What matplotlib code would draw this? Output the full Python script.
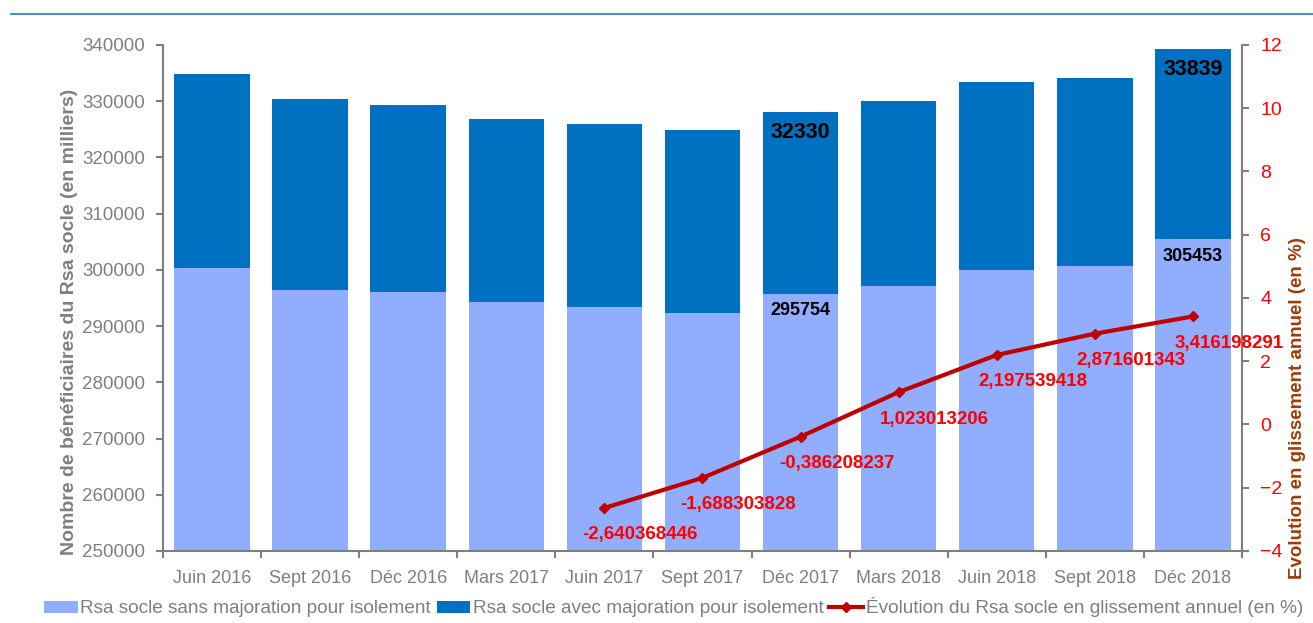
import matplotlib
matplotlib.use("Agg")
import matplotlib.pyplot as plt
from matplotlib.lines import Line2D
import numpy as np

plt.rcParams['font.family'] = ['Liberation Sans', 'DejaVu Sans']

# Données
periodes = ['Juin 2016', 'Sept 2016', 'Déc 2016', 'Mars 2017', 'Juin 2017', 'Sept 2017',
            'Déc 2017', 'Mars 2018', 'Juin 2018', 'Sept 2018', 'Déc 2018']
sans_majoration = [300330, 296420, 296070, 294290, 293400, 292330,
                   295754, 297130, 299980, 300690, 305453]
avec_majoration = [34510, 33970, 33260, 32550, 32550, 32550,
                   32330, 32910, 33440, 33440, 33839]
evolution = [None, None, None, None, -2.640368446, -1.688303828, -0.386208237,
             1.023013206, 2.197539418, 2.871601343, 3.416198291]

gris = '#7F7F7F'
bleu_clair = '#91AEFE'
bleu_fonce = '#0070C0'
rouge = '#C00000'

fig = plt.figure(figsize=(13.13, 6.23), dpi=100)
ax = fig.add_axes([0.1241, 0.1156, 0.8218, 0.8122])

x = np.arange(len(periodes))
largeur = 0.77
ax.bar(x, sans_majoration, largeur, color=bleu_clair,
       label='Rsa socle sans majoration pour isolement', zorder=2)
ax.bar(x, avec_majoration, largeur, bottom=sans_majoration, color=bleu_fonce,
       label='Rsa socle avec majoration pour isolement', zorder=2)

ax.set_ylim(250000, 340000)
ax.set_yticks(np.arange(250000, 340001, 10000))
ax.set_xlim(-0.5, len(periodes) - 0.5)
ax.set_xticks(x)
ax.set_xticklabels(periodes)
ax.set_xticks(np.arange(-0.5, len(periodes)), minor=True)
ax.tick_params(axis='x', which='major', length=0, pad=14, labelsize=13, labelcolor=gris)
ax.tick_params(axis='x', which='minor', length=5, color=gris, width=1.5)
ax.tick_params(axis='y', length=5, color=gris, width=1.5, pad=8, labelsize=13.5, labelcolor=gris)
for s in ['top', 'right']:
    ax.spines[s].set_visible(False)
for s in ['left', 'bottom']:
    ax.spines[s].set_color(gris)
    ax.spines[s].set_linewidth(1.5)
ax.set_ylabel('Nombre de bénéficiaires du Rsa socle (en milliers)', color=gris,
              fontsize=14, fontweight='bold')
ax.yaxis.set_label_coords(-0.079, 0.453)

# Etiquettes des barres
for i in [6, 10]:
    ax.text(x[i], sans_majoration[i] - 1500, str(sans_majoration[i]), ha='center', va='top',
            fontsize=13, fontweight='bold', color='black', zorder=4)
    total = sans_majoration[i] + avec_majoration[i]
    ax.text(x[i], total - 1700, str(avec_majoration[i]), ha='center', va='top',
            fontsize=15.5, fontweight='bold', color='black', zorder=4)

# Axe secondaire
ax2 = ax.twinx()
xs = [xi for xi, v in zip(x, evolution) if v is not None]
ys = [v for v in evolution if v is not None]
ax2.plot(xs, ys, color=rouge, lw=3, marker='D', markersize=5,
         label='Évolution du Rsa socle en glissement annuel (en %)', zorder=5)
for xi, v in zip(xs, ys):
    ax2.annotate(f'{v:.9f}'.replace('.', ','), (xi, v), xytext=(36, -27),
                 textcoords='offset pixels', ha='center', va='center',
                 fontsize=13.5, fontweight='bold', color='#FF0000')
ax2.set_ylim(-4, 12)
ax2.set_yticks(np.arange(-4, 13, 2))
ax2.tick_params(axis='y', length=5, color=gris, width=1.5, pad=8, labelsize=14, labelcolor='#FF0000')
for s in ['top', 'left', 'bottom']:
    ax2.spines[s].set_visible(False)
ax2.spines['right'].set_color(gris)
ax2.spines['right'].set_linewidth(1.5)
ax2.set_ylabel('Evolution en glissement annuel (en %)', color='#A23A06',
               fontsize=13.5, fontweight='bold')
ax2.yaxis.set_label_coords(1.044, 0.283)

# Légende
h1, l1 = ax.get_legend_handles_labels()
h2, l2 = ax2.get_legend_handles_labels()
fig.legend(h1 + h2, l1 + l2, loc='center', bbox_to_anchor=(0.513, 0.025), ncol=3,
           frameon=False, fontsize=13.7, labelcolor=gris, handlelength=1.75,
           handletextpad=0.15, columnspacing=0.3, handleheight=0.6)

# Ligne bleue en haut
fig.add_artist(Line2D([0.008, 1.0], [0.9775, 0.9775], color='#1F78C8', lw=1.2))

fig.savefig('out.png', dpi=100)
